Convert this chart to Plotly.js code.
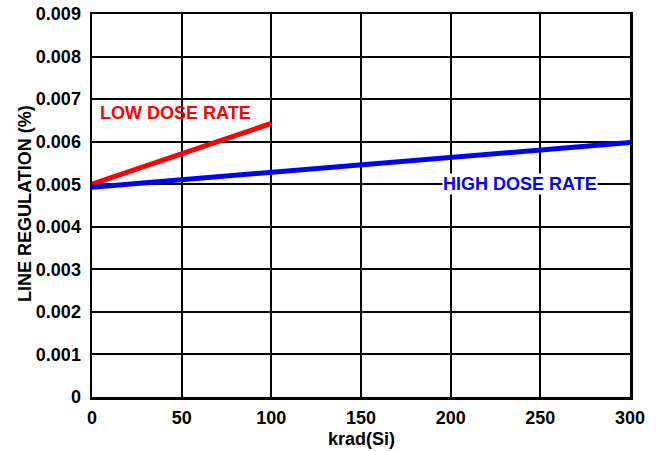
<!DOCTYPE html>
<html>
<head>
<meta charset="utf-8">
<script src="https://cdn.plot.ly/plotly-3.0.1.min.js"></script>
<style>html,body{margin:0;padding:0;background:#fff;}#chart{width:660px;height:451px;}</style>
</head>
<body>
<div id="chart"></div>
<script>
// Data
const lowDoseX = [0, 50, 100];
const lowDoseY = [0.00500, 0.00572, 0.00643];
const highDoseX = [0, 100, 200, 300];
const highDoseY = [0.00493, 0.00528, 0.00563, 0.00598];

const xTickVals = [0, 50, 100, 150, 200, 250, 300];
const xTickText = ['0', '50', '100', '150', '200', '250', '300'];
const yTickVals = [0, 0.001, 0.002, 0.003, 0.004, 0.005, 0.006, 0.007, 0.008, 0.009];
const yTickText = ['0', '0.001', '0.002', '0.003', '0.004', '0.005', '0.006', '0.007', '0.008', '0.009'];

const seriesNames = ['LOW DOSE RATE', 'HIGH DOSE RATE'];
const xTitle = 'krad(Si)';
const yTitle = 'LINE REGULATION (%)';

const FONT = 'Liberation Sans, Arial, Helvetica, sans-serif';

const traces = [
  {x: lowDoseX, y: lowDoseY, mode: 'lines', name: seriesNames[0],
   line: {color: '#ff0000', width: 5}, cliponaxis: false},
  {x: highDoseX, y: highDoseY, mode: 'lines', name: seriesNames[1],
   line: {color: '#0000ff', width: 5}, cliponaxis: false}
];

const layout = {
  width: 660, height: 451,
  margin: {l: 92, r: 30, t: 14, b: 54},
  paper_bgcolor: '#ffffff', plot_bgcolor: '#ffffff',
  showlegend: false,
  font: {family: FONT, color: '#000000', size: 18, weight: 700},
  xaxis: {
    range: [0, 300], tickvals: xTickVals, ticktext: xTickText,
    showgrid: true, gridcolor: '#000000', gridwidth: 2,
    showline: true, linecolor: '#000000', linewidth: 2.5, mirror: true,
    zeroline: false, ticks: '', ticklabelstandoff: 3,
    tickfont: {family: FONT, size: 18, color: '#000000', weight: 700}
  },
  yaxis: {
    range: [0, 0.009], tickvals: yTickVals, ticktext: yTickText,
    showgrid: true, gridcolor: '#000000', gridwidth: 2,
    showline: true, linecolor: '#000000', linewidth: 2.5, mirror: true,
    zeroline: false, ticks: '', ticklabelstandoff: 5,
    tickfont: {family: FONT, size: 18, color: '#000000', weight: 700}
  },
  annotations: [
    {x: 46.5, y: 0.00668, xref: 'x', yref: 'y', text: seriesNames[0], showarrow: false,
     xanchor: 'center', yanchor: 'middle',
     font: {family: FONT, size: 18, color: '#ff0000', weight: 700}},
    {x: 238.5, y: 0.0050, xref: 'x', yref: 'y', text: seriesNames[1], showarrow: false,
     xanchor: 'center', yanchor: 'middle', bgcolor: '#ffffff', borderpad: 0,
     font: {family: FONT, size: 18, color: '#0000ff', weight: 700}},
    {x: 0.5, y: 0, xref: 'paper', yref: 'paper', yshift: -42, text: xTitle, showarrow: false,
     xanchor: 'center', yanchor: 'middle',
     font: {family: FONT, size: 18, color: '#000000', weight: 700}},
    {x: 0, y: 0.504, xref: 'paper', yref: 'paper', xshift: -67, text: yTitle, showarrow: false, textangle: -90,
     xanchor: 'center', yanchor: 'middle',
     font: {family: FONT, size: 18, color: '#000000', weight: 700}}
  ]
};

Plotly.newPlot('chart', traces, layout, {displayModeBar: false, staticPlot: true});
</script>
</body>
</html>
